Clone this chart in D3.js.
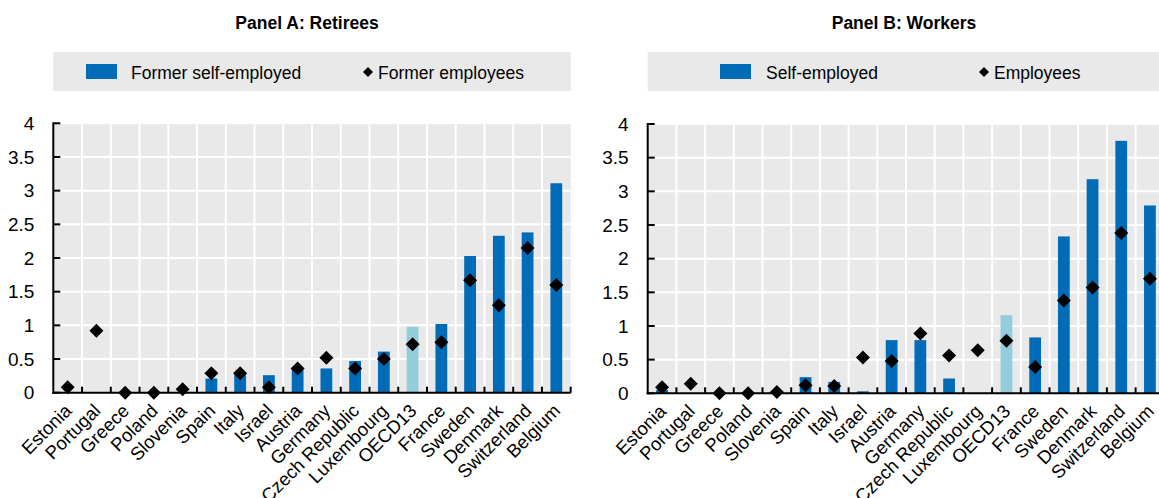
<!DOCTYPE html>
<html><head><meta charset="utf-8">
<script src="https://cdn.jsdelivr.net/npm/d3@7"></script>
<style>
html,body{margin:0;padding:0;background:#fff;overflow:hidden;}
svg{display:block;}
text{font-family:"Liberation Sans Narrow","Arial Narrow","Liberation Sans",Arial,sans-serif;fill:#000;}
</style></head>
<body><svg id="chart" width="1159" height="498"></svg>
<script>
const categories = ["Estonia","Portugal","Greece","Poland","Slovenia","Spain","Italy","Israel","Austria","Germany","Czech Republic","Luxembourg","OECD13","France","Sweden","Denmark","Switzerland","Belgium"];
const yTicks = [0,0.5,1,1.5,2,2.5,3,3.5,4];
// Panel A: Retirees
const formerSelfEmployed = [null,null,null,null,null,0.21,0.27,0.26,0.34,0.36,0.47,0.61,0.98,1.02,2.03,2.33,2.38,3.11];
const formerEmployees    = [0.08,0.92,0.00,0.00,0.05,0.29,0.29,0.08,0.36,0.52,0.36,0.50,0.72,0.75,1.67,1.30,2.15,1.60];
// Panel B: Workers
const selfEmployed = [0.05,null,null,null,null,0.24,0.17,0.03,0.79,0.79,0.22,null,1.16,0.83,2.33,3.18,3.75,2.79];
const employees    = [0.09,0.14,0.00,0.00,0.02,0.12,0.11,0.53,0.48,0.89,0.56,0.64,0.78,0.39,1.38,1.57,2.38,1.70];
const highlight = "OECD13";

const BLUE = "#006BB6", LIGHT = "#93CCDD", BG = "#E9E9E9";
const svg = d3.select("#chart");

function diamond(sel, cx, cy, r){
  sel.append("path").attr("d", `M${cx},${cy-r}L${cx+r},${cy}L${cx},${cy+r}L${cx-r},${cy}Z`).attr("fill","#000");
}

function panel(cfg){
  const g = svg.append("g");
  const x = d3.scaleBand().domain(categories).range([cfg.x0, cfg.x1]).padding(0);
  const y = d3.scaleLinear().domain([0,4]).range([cfg.yBot, cfg.yTop]);
  // title
  g.append("text").attr("x", cfg.tx).attr("y", 29).attr("text-anchor","middle")
    .style("font-weight","bold").style("font-size","17.5px").text(cfg.title);
  // legend
  g.append("rect").attr("x", cfg.x0).attr("y", 52).attr("width", cfg.x1-cfg.x0).attr("height", 39).attr("fill", BG);
  g.append("rect").attr("x", cfg.leg.sw).attr("y", 64).attr("width", 31).attr("height", 15).attr("fill", BLUE);
  g.append("text").attr("x", cfg.leg.t1).attr("y", 78.5).style("font-size","17.5px").text(cfg.names[0]);
  diamond(g, cfg.leg.d, 72, 5);
  g.append("text").attr("x", cfg.leg.t2).attr("y", 78.5).style("font-size","17.5px").text(cfg.names[1]);
  // plot bg
  g.append("rect").attr("x", cfg.x0).attr("y", cfg.yTop).attr("width", cfg.x1-cfg.x0).attr("height", cfg.yBot-cfg.yTop).attr("fill", BG);
  // grid
  g.selectAll(".hg").data(yTicks.slice(1)).enter().append("line")
    .attr("x1", cfg.x0).attr("x2", cfg.x1).attr("y1", d=>y(d)).attr("y2", d=>y(d))
    .attr("stroke","#fff").attr("stroke-width",2);
  g.selectAll(".vg").data(categories.slice(1)).enter().append("line")
    .attr("x1", d=>x(d)).attr("x2", d=>x(d)).attr("y1", cfg.yTop).attr("y2", cfg.yBot)
    .attr("stroke","#fff").attr("stroke-width",2);
  // bars
  const bw = x.bandwidth()*0.41;
  g.selectAll(".bar").data(categories.map((c,i)=>({c, v: cfg.bars[i]})).filter(d=>d.v!=null)).enter().append("rect")
    .attr("x", d=>x(d.c)+x.bandwidth()/2-bw/2).attr("width", bw)
    .attr("y", d=>y(d.v)).attr("height", d=>y(0)-y(d.v))
    .attr("fill", d=>d.c===highlight?LIGHT:BLUE);
  // axes
  g.append("line").attr("x1", cfg.x0).attr("x2", cfg.x0).attr("y1", cfg.yTop-1).attr("y2", cfg.yBot+1).attr("stroke","#000").attr("stroke-width",2);
  g.append("line").attr("x1", cfg.x0-1).attr("x2", cfg.x1).attr("y1", cfg.yBot).attr("y2", cfg.yBot).attr("stroke","#000").attr("stroke-width",2);
  g.selectAll(".yt").data(yTicks).enter().append("line")
    .attr("x1", cfg.x0).attr("x2", cfg.x0+7).attr("y1", d=>y(d)).attr("y2", d=>y(d)).attr("stroke","#000").attr("stroke-width",2);
  g.selectAll(".xt").data(categories.slice(1).concat(["__end"])).enter().append("line")
    .attr("x1", (d,i)=> i<categories.length-1 ? x(d) : cfg.x1).attr("x2", (d,i)=> i<categories.length-1 ? x(d) : cfg.x1)
    .attr("y1", cfg.yBot-6).attr("y2", cfg.yBot).attr("stroke","#000").attr("stroke-width",2);
  g.selectAll(".yl").data(yTicks).enter().append("text")
    .attr("x", cfg.x0-19).attr("y", d=>y(d)).attr("dy","0.35em").attr("text-anchor","end")
    .style("font-size","19px").text(d=>d3.format("~g")(d));
  // diamonds
  categories.forEach((c,i)=>{
    const v = cfg.pts[i];
    if(v!=null) diamond(g, x(c)+x.bandwidth()/2, y(v), 7);
  });
  // x labels
  g.selectAll(".xl").data(categories).enter().append("text")
    .attr("transform", d=>`translate(${x(d)+x.bandwidth()/2-4},${cfg.yBot+10}) rotate(-45)`)
    .attr("text-anchor","end").attr("dy","0.7em").style("font-size","18.5px").text(d=>d);
}

panel({title:"Panel A: Retirees", tx:307, x0:53.3, x1:570.7, yTop:123.3, yBot:392.7,
  names:["Former self-employed","Former employees"], bars:formerSelfEmployed, pts:formerEmployees,
  leg:{sw:86, t1:131, d:368, t2:378}});
panel({title:"Panel B: Workers", tx:904, x0:647.7, x1:1164.3, yTop:124, yBot:393.3,
  names:["Self-employed","Employees"], bars:selfEmployed, pts:employees,
  leg:{sw:720, t1:766, d:984, t2:994}});
</script></body></html>
